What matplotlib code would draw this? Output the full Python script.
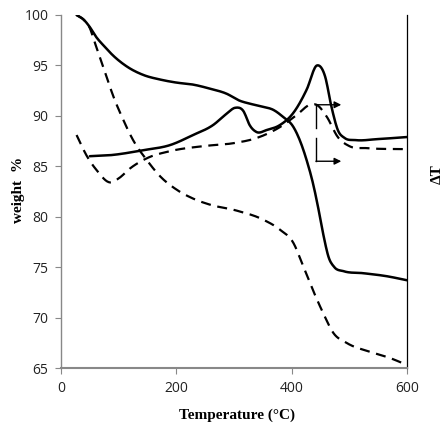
import matplotlib
matplotlib.use("Agg")
import matplotlib.pyplot as plt
import numpy as np

# TGA solid (weight %)
tga1_T = [27, 40, 50, 60, 75, 90, 114, 143, 172, 200, 229, 258, 287, 310, 328, 351, 368, 385, 403, 414, 426, 437, 447, 455, 464, 474, 490, 524, 565, 600]
tga1_w = [100.0, 99.5, 98.8, 97.9, 96.9, 96.0, 94.9, 94.05, 93.6, 93.3, 93.1, 92.7, 92.2, 91.5, 91.2, 90.9, 90.6, 89.9, 88.9, 87.6, 85.6, 83.3, 80.6, 78.2, 76.0, 75.0, 74.6, 74.4, 74.1, 73.7]

# TGA dashed
tga2_T = [27, 40, 50, 59, 73, 91, 108, 125, 149, 172, 200, 229, 258, 305, 351, 380, 403, 420, 437, 455, 472, 495, 536, 570, 600]
tga2_w = [100.0, 99.5, 98.7, 97.2, 94.9, 91.9, 89.6, 87.6, 85.6, 84.0, 82.7, 81.8, 81.2, 80.6, 79.7, 78.7, 77.4, 75.1, 72.7, 70.4, 68.5, 67.5, 66.6, 66.0, 65.3]

# DTA solid
dta1_T = [50, 85, 143, 189, 229, 264, 287, 302, 316, 328, 339, 357, 380, 403, 426, 444, 458, 469, 480, 492, 510, 550, 600]
dta1_v = [86.0, 86.1, 86.6, 87.1, 88.1, 89.1, 90.2, 90.8, 90.5, 89.0, 88.4, 88.6, 89.1, 90.3, 92.6, 95.0, 93.9, 90.9, 88.6, 87.8, 87.6, 87.7, 87.9]

# DTA dashed
dta2_T = [27, 45, 62, 85, 100, 120, 149, 189, 247, 300, 339, 380, 409, 432, 443, 461, 480, 500, 530, 600]
dta2_v = [88.1, 86.0, 84.6, 83.4, 83.8, 84.8, 85.8, 86.5, 87.0, 87.3, 87.8, 88.9, 90.1, 91.1, 91.1, 89.9, 87.9, 87.0, 86.8, 86.7]

xticks = [0, 200, 400, 600]
yticks = [65, 70, 75, 80, 85, 90, 95, 100]

def smooth(T, v, n=400):
    T = np.asarray(T, float); v = np.asarray(v, float)
    h = np.diff(T); d = np.diff(v) / h
    m = np.zeros_like(v)
    m[0] = d[0]; m[-1] = d[-1]
    for i in range(1, len(v) - 1):
        m[i] = (h[i] * d[i-1] + h[i-1] * d[i]) / (h[i-1] + h[i])
    xs = np.linspace(T[0], T[-1], n)
    idx = np.clip(np.searchsorted(T, xs) - 1, 0, len(T) - 2)
    t = (xs - T[idx]) / h[idx]
    h00 = 2*t**3 - 3*t**2 + 1; h10 = t**3 - 2*t**2 + t
    h01 = -2*t**3 + 3*t**2; h11 = t**3 - t**2
    ys = h00*v[idx] + h10*h[idx]*m[idx] + h01*v[idx+1] + h11*h[idx]*m[idx+1]
    return xs, ys

fig = plt.figure(figsize=(4.43, 4.29), dpi=100)
ax = fig.add_axes([61/443, 1 - 368/429, (407-61)/443, (368-15)/429])

for T, v, ls in [(tga1_T, tga1_w, '-'), (tga2_T, tga2_w, '--'),
                 (dta1_T, dta1_v, '-'), (dta2_T, dta2_v, '--')]:
    xs, ys = smooth(T, v)
    if ls == '-':
        ax.plot(xs, ys, color='black', lw=1.8, solid_capstyle='round')
    else:
        ax.plot(xs, ys, color='black', lw=1.6, dashes=(4.5, 3))

# arrows
ax.plot([442, 442], [91.1, 88.8], color='black', lw=1.0)
ax.plot([442, 442], [87.8, 85.5], color='black', lw=1.0)
for yy in [91.1, 85.5]:
    ax.annotate('', xy=(486, yy), xytext=(442, yy),
                arrowprops=dict(arrowstyle='-|>', color='black', lw=1.0,
                                mutation_scale=10, shrinkA=0, shrinkB=0))

ax.set_xlim(0, 600)
ax.set_ylim(65, 100)
ax.set_xticks(xticks)
ax.set_yticks(yticks)
ax.tick_params(axis='both', direction='out', length=4, width=0.8, color='#888888',
               labelsize=10, pad=5)
for lab in ax.get_xticklabels() + ax.get_yticklabels():
    lab.set_family('Open Sans')
    lab.set_color('#222222')
ax.spines['top'].set_visible(False)
ax.spines['left'].set_color('#888888')
ax.spines['bottom'].set_color('#888888')
ax.spines['left'].set_linewidth(1.0)
ax.spines['bottom'].set_linewidth(1.5)
ax.spines['right'].set_color('black')
ax.spines['right'].set_linewidth(0.9)

ax.set_xlabel('Temperature (°C)', family='Liberation Serif', fontweight='bold', fontsize=11)
ax.xaxis.set_label_coords(176 / 346, -41 / 353)
ax.set_ylabel('weight  %', family='Liberation Serif', fontweight='bold', fontsize=11)
ax.yaxis.set_label_coords((25 - 61) / 346, (368 - 190) / 353)
fig.text(437/443, 1 - 174/429, 'ΔT', family='Liberation Serif', fontweight='bold', fontsize=11,
         rotation=90, ha='center', va='center')

fig.savefig('out.png', dpi=100)
